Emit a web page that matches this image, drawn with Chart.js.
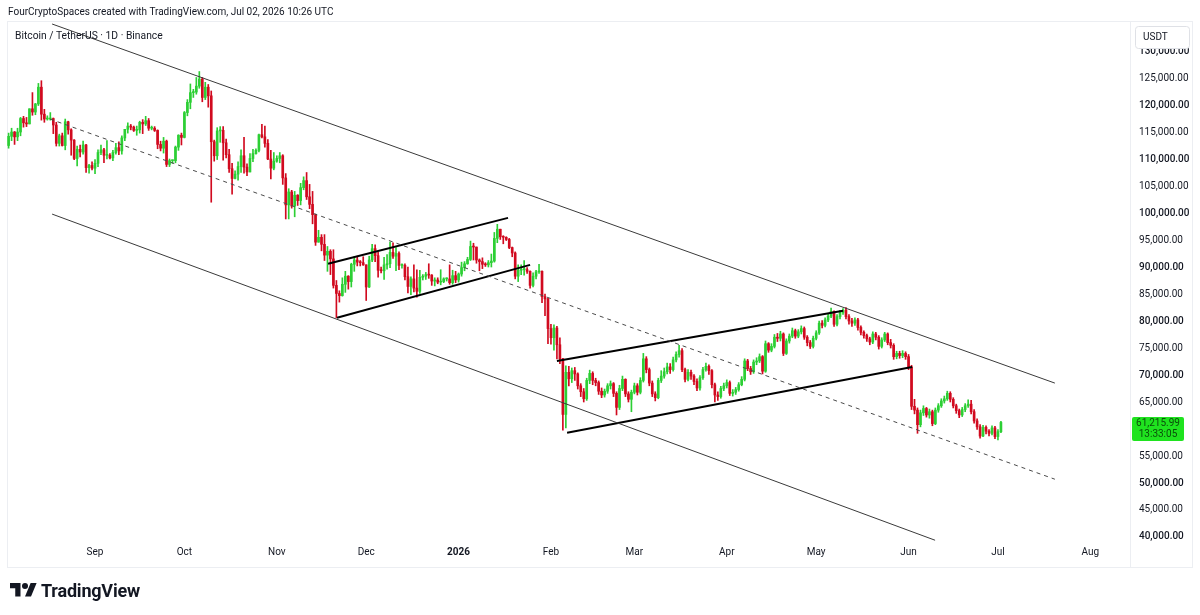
<!DOCTYPE html>
<html>
<head>
<meta charset="utf-8">
<title>Bitcoin / TetherUS · 1D · Binance</title>
<script src="https://cdn.jsdelivr.net/npm/chart.js@4.4.1/dist/chart.umd.min.js"></script>
<style>
    html, body { margin: 0; padding: 0; background: #fff; }
    body { width: 1200px; height: 615px; position: relative; overflow: hidden; font-family: Roboto, "Noto Sans", sans-serif; color: #131722; }
    #chart { position: absolute; left: 0; top: 0; }
    .header { position: absolute; left: 8px; top: 6px; font-size: 10px; white-space: nowrap; }
    .legend { position: absolute; left: 15px; top: 29px; font-size: 10.3px; white-space: nowrap; }
    .brand { position: absolute; left: 10px; top: 580px; display: flex; align-items: center; gap: 4px; font-weight: 700; font-size: 18px; letter-spacing: -0.2px; }
</style>
</head>
<body>
<canvas id="chart" width="1200" height="615"></canvas>
<div class="header">FourCryptoSpaces created with TradingView.com, Jul 02, 2026 10:26 UTC</div>
<div class="legend">Bitcoin / TetherUS · 1D · Binance</div>
<div class="brand">
    <svg width="27" height="21" viewBox="0 0 36 28"><path d="M14 22H7V11H0V4h14v18zM28 22h-8l7.5-18h8L28 22z" fill="#131722"/><circle cx="20" cy="8" r="4" fill="#131722"/></svg>
    <span>TradingView</span>
</div>
<script>
// daily candles, Aug 3 2025 .. Jul 2 2026, prices in thousands of USDT
// open of each day = previous close (24/7 market)
const firstOpen = 112.5;

const closes = [
    114.2, 115.0, 114.1, 115.0, 117.5, 116.7, 116.5, 119.3, 118.7, 120.2, 123.3, 118.3, 117.4, 117.4, 117.5, 116.3, 112.9, 114.3, 112.5, 116.9, 115.4, 113.5, 110.1, 111.8, 111.3, 112.6, 108.4, 108.8, 108.3,
    109.2, 111.2, 111.7, 110.7, 110.7, 110.2, 111.2, 112.1, 111.5, 113.9, 115.5, 116.1, 115.9, 115.3, 115.4, 116.8, 116.5, 117.1, 115.7, 115.7, 115.3, 112.7, 112.0, 113.3, 109.0, 109.7, 109.7, 112.2, 114.4, 114.0,
    118.6, 120.5, 122.3, 122.4, 123.5, 124.8, 121.4, 123.3, 121.7, 113.2, 110.6, 115.2, 115.3, 113.0, 110.8, 108.2, 106.4, 107.2, 108.6, 110.6, 108.5, 107.6, 110.1, 111.0, 111.6, 114.5, 114.1, 112.9, 110.0, 108.3, 109.6,
    110.1, 110.6, 106.5, 101.5, 103.9, 101.3, 103.3, 102.3, 104.7, 106.0, 103.0, 101.6, 99.7, 94.6, 95.5, 94.2, 92.2, 92.9, 91.5, 86.6, 85.1, 84.7, 86.8, 88.3, 87.3, 90.5, 91.3, 90.9, 90.8, 90.4,
    86.3, 91.3, 93.4, 92.1, 89.4, 89.3, 90.4, 90.6, 92.7, 92.0, 92.5, 90.3, 90.3, 88.2, 86.4, 87.8, 86.1, 85.5, 88.1, 88.3, 88.6, 88.5, 87.4, 87.6, 87.2, 87.3, 87.8, 87.8, 87.1, 88.4, 87.6,
    88.7, 89.9, 90.6, 91.4, 93.8, 93.7, 91.3, 91.0, 90.5, 90.4, 90.8, 91.1, 95.3, 97.0, 95.6, 95.5, 95.1, 93.6, 92.6, 88.3, 89.4, 89.5, 89.5, 89.2, 86.6, 88.3, 89.1, 89.2, 84.5, 84.1, 78.6,
    76.9, 78.7, 75.6, 73.0, 62.7, 70.5, 69.3, 70.8, 70.2, 68.0, 66.9, 65.6, 69.0, 70.3, 69.0, 68.6, 67.0, 66.3, 67.0, 68.0, 68.4, 66.6, 64.0, 67.5, 69.2, 66.5, 65.5, 66.8,
    68.0, 66.8, 69.0, 73.0, 71.0, 68.5, 66.5, 65.8, 69.0, 69.8, 70.6, 71.5, 71.0, 72.8, 73.8, 74.5, 71.0, 69.2, 70.5, 69.8, 68.8, 67.6, 69.5, 71.0, 71.6, 70.8, 68.2, 66.3, 66.0, 67.5, 68.0,
    68.6, 66.6, 66.8, 67.3, 68.2, 69.2, 72.6, 71.2, 70.6, 72.4, 72.6, 73.4, 70.7, 75.8, 74.6, 75.3, 77.0, 76.8, 77.6, 74.0, 76.3, 77.2, 78.2, 77.2, 78.0, 78.6, 77.0, 76.0, 75.3, 76.8,
    77.8, 79.6, 79.2, 80.2, 80.9, 81.8, 79.4, 80.8, 81.6, 82.0, 80.8, 80.0, 79.6, 80.2, 78.8, 77.9, 77.3, 76.7, 76.1, 77.6, 77.0, 75.3, 76.5, 77.6, 76.0, 75.5, 73.4, 74.0, 73.6, 74.0, 73.4,
    71.5, 64.2, 63.5, 60.8, 63.0, 63.8, 62.6, 63.2, 61.0, 63.5, 64.3, 65.2, 65.6, 66.6, 65.5, 64.3, 63.4, 62.6, 63.6, 64.3, 64.6, 63.2, 61.5, 60.4, 58.7, 60.3, 59.6, 59.2, 60.2, 58.6,
    59.5, 61.21599
];

const highs = [
    114.8, 115.7, 115.1, 115.7, 117.7, 117.9, 117.7, 119.3, 122.3, 120.3, 124.0, 124.5, 119.2, 118.0, 118.6, 117.6, 116.8, 114.6, 114.8, 117.4, 117.0, 115.6, 113.6, 112.4, 112.6, 113.3, 112.7, 109.0, 109.5,
    109.9, 111.7, 112.6, 112.0, 113.4, 111.0, 111.6, 112.9, 113.2, 114.3, 115.5, 116.7, 116.4, 116.1, 116.1, 117.0, 117.3, 117.9, 117.5, 116.1, 116.0, 115.4, 113.3, 114.0, 113.5, 110.0, 109.8, 112.4, 114.5, 114.8,
    118.8, 121.0, 123.9, 122.9, 125.1, 126.2, 125.1, 124.2, 123.8, 122.6, 113.5, 115.8, 116.0, 116.0, 113.7, 111.8, 109.2, 107.8, 109.5, 111.7, 114.0, 109.1, 111.0, 111.8, 111.9, 114.6, 116.4, 116.1, 113.6, 111.6, 111.2,
    110.6, 111.2, 110.8, 107.3, 104.5, 104.2, 104.0, 103.4, 105.5, 106.7, 107.5, 105.3, 104.0, 99.8, 96.8, 96.0, 96.0, 93.8, 93.2, 93.2, 87.5, 85.6, 88.0, 89.2, 88.4, 90.7, 91.9, 92.0, 91.2, 91.9,
    90.4, 92.0, 94.2, 94.1, 92.7, 90.0, 91.8, 92.3, 94.6, 94.5, 93.6, 92.8, 90.6, 90.6, 90.0, 88.2, 90.4, 89.5, 89.4, 88.6, 89.0, 90.6, 88.6, 88.0, 88.0, 89.5, 88.0, 88.0, 90.4, 89.4, 89.2,
    88.9, 90.9, 91.0, 91.8, 94.8, 94.4, 93.7, 91.5, 91.7, 90.8, 91.2, 92.4, 96.4, 97.9, 97.0, 95.8, 95.6, 95.3, 93.7, 92.8, 90.4, 90.4, 91.2, 89.9, 89.3, 88.9, 89.4, 90.5, 89.3, 85.0, 84.2,
    79.4, 79.3, 79.0, 76.9, 73.1, 71.7, 71.6, 71.3, 71.4, 70.4, 68.4, 67.5, 69.4, 70.9, 70.6, 69.4, 68.9, 67.6, 67.4, 68.4, 68.9, 68.6, 66.9, 68.1, 69.8, 69.3, 66.9, 67.2,
    68.5, 68.4, 69.5, 74.0, 73.4, 71.3, 68.9, 66.9, 69.4, 70.8, 71.3, 72.2, 72.1, 73.3, 74.3, 75.5, 74.9, 71.3, 71.0, 70.9, 70.1, 69.3, 69.9, 71.4, 72.2, 71.9, 71.0, 68.5, 66.9, 67.9, 68.5,
    69.1, 68.9, 67.3, 67.7, 68.6, 69.7, 73.0, 72.9, 71.6, 72.8, 73.2, 73.9, 73.6, 76.3, 76.0, 75.8, 77.5, 77.7, 78.1, 77.8, 76.7, 77.6, 78.7, 78.5, 78.4, 79.1, 78.9, 77.3, 76.4, 77.2,
    78.2, 80.0, 80.1, 80.6, 81.3, 82.4, 81.9, 81.2, 82.0, 82.3, 82.5, 81.2, 80.5, 80.6, 80.5, 79.1, 78.2, 77.6, 77.0, 78.0, 77.9, 77.3, 76.9, 77.9, 77.8, 76.6, 75.8, 74.4, 74.4, 74.5, 74.3,
    73.8, 71.8, 65.5, 63.9, 63.5, 64.3, 64.0, 63.7, 63.5, 63.9, 64.7, 65.6, 66.1, 67.0, 66.9, 65.8, 64.6, 63.7, 64.0, 64.7, 65.4, 65.3, 63.6, 61.9, 60.8, 60.7, 60.6, 59.9, 60.6, 60.5,
    59.9, 61.4
];

const lows = [
    112.0, 113.4, 112.7, 113.4, 114.3, 115.9, 116.0, 116.5, 118.1, 118.2, 119.9, 117.2, 116.8, 117.2, 117.2, 114.7, 112.4, 112.4, 112.4, 111.7, 114.6, 110.7, 109.9, 108.7, 110.4, 110.9, 107.5, 107.4, 108.0,
    107.3, 108.6, 110.8, 109.3, 110.0, 110.0, 109.7, 110.9, 110.8, 110.9, 113.4, 114.8, 115.4, 115.1, 114.4, 114.8, 114.7, 116.2, 115.3, 115.4, 115.1, 111.9, 111.5, 111.1, 108.6, 108.6, 109.2, 109.3, 111.6, 112.6,
    113.9, 118.0, 119.3, 121.4, 122.0, 123.1, 120.6, 121.0, 119.6, 102.0, 109.6, 109.9, 113.1, 109.8, 110.2, 107.5, 103.5, 106.3, 106.1, 107.5, 107.4, 106.9, 107.6, 109.5, 110.9, 111.3, 113.9, 112.2, 109.9, 106.3, 108.0,
    109.4, 109.3, 105.3, 98.9, 98.9, 100.9, 99.3, 101.4, 101.5, 104.3, 102.5, 100.8, 98.0, 94.0, 94.6, 93.0, 91.2, 89.2, 88.6, 86.1, 80.6, 83.5, 84.6, 85.3, 85.9, 86.3, 89.2, 90.2, 90.2, 90.3,
    83.8, 86.2, 91.0, 91.0, 88.1, 88.9, 87.7, 89.6, 89.9, 91.6, 89.3, 89.5, 89.8, 87.6, 85.2, 84.9, 85.4, 84.4, 85.1, 87.6, 87.7, 87.9, 86.6, 86.5, 86.9, 86.7, 87.1, 87.4, 86.8, 86.8, 87.1,
    87.2, 88.3, 89.3, 90.5, 91.2, 91.3, 90.7, 89.3, 89.7, 90.1, 90.0, 90.0, 90.9, 94.5, 95.1, 94.3, 94.9, 93.4, 91.9, 87.8, 87.3, 88.6, 88.5, 88.8, 86.1, 86.3, 87.8, 88.8, 83.4, 81.0, 75.8,
    75.7, 74.6, 73.0, 72.1, 59.8, 60.2, 68.0, 68.6, 69.0, 67.4, 66.0, 65.0, 65.3, 68.4, 68.2, 68.0, 66.4, 65.8, 65.9, 66.6, 67.4, 66.0, 62.6, 63.6, 67.1, 66.0, 65.0, 63.2,
    66.5, 66.3, 66.5, 68.7, 70.4, 68.0, 66.0, 65.2, 65.6, 68.6, 69.4, 70.2, 70.3, 70.7, 72.4, 73.3, 70.6, 68.7, 68.9, 69.2, 68.2, 67.1, 67.2, 69.2, 70.7, 70.1, 67.6, 65.0, 65.3, 65.7, 67.1,
    67.6, 66.2, 66.1, 66.4, 67.0, 68.0, 68.9, 70.8, 70.1, 70.3, 71.9, 72.3, 70.2, 70.5, 74.2, 74.3, 75.0, 76.2, 76.3, 73.6, 73.8, 75.9, 76.9, 76.8, 76.9, 77.6, 76.6, 75.4, 74.9, 75.0,
    76.5, 77.5, 78.7, 78.9, 79.9, 80.6, 79.0, 79.1, 80.4, 81.2, 80.4, 79.4, 79.0, 79.2, 78.3, 77.4, 76.8, 76.2, 75.6, 75.8, 76.5, 74.8, 75.0, 76.2, 75.6, 75.0, 72.9, 73.0, 73.1, 73.2, 72.9,
    71.0, 63.6, 62.8, 59.2, 60.4, 62.5, 62.2, 62.0, 60.6, 60.8, 63.1, 64.0, 64.8, 65.3, 65.0, 63.9, 62.9, 62.1, 62.3, 63.2, 64.0, 62.8, 61.1, 59.9, 58.3, 58.6, 59.1, 58.7, 58.9, 58.2,
    58.0, 59.3
];

// x axis: day index 0 = Aug 3 2025
const monthTicks = [29, 59, 90, 120, 151, 182, 210, 241, 271, 302, 332, 363];
const monthLabels = ['Sep', 'Oct', 'Nov', 'Dec', '2026', 'Feb', 'Mar', 'Apr', 'May', 'Jun', 'Jul', 'Aug'];
const priceTicks = [40000, 45000, 50000, 55000, 60000, 65000, 70000, 75000, 80000, 85000, 90000, 95000,
    100000, 105000, 110000, 115000, 120000, 125000, 130000];

// drawn trend lines as [day, price]
const upperChannel = [[14.6, 135000], [351.1, 68500]];
const midLine = [[13.9, 117400], [351.1, 50700]];
const lowerChannel = [[14.6, 99800], [310.9, 39400]];
const decFlagTop = [[107.2, 90600], [167.6, 99100]];
const decFlagBottom = [[110.2, 80600], [175.0, 90400]];
const springTop = [[184.0, 72600], [280.0, 81900]];
const springBottom = [[187.4, 59300], [303.2, 71500]];

const UP = '#2ccf34';
const DOWN = '#d10a1f';
const TEXT = '#131722';
const FONT = 'Roboto, "Noto Sans", sans-serif';

const K = 1000;
const opens = closes.map((c, i) => i === 0 ? firstOpen : closes[i - 1]);
const candleColors = closes.map((c, i) => c >= opens[i] ? UP : DOWN);

const wickData = closes.map((c, i) => ({
    x: i,
    y: [Math.min(lows[i], c, opens[i]) * K, Math.max(highs[i], c, opens[i]) * K]
}));
const bodyData = closes.map((c, i) => ({ x: i, y: [opens[i] * K, c * K] }));

const toPoints = line => line.map(p => ({ x: p[0], y: p[1] }));
const lineSet = (line, width, color, dash) => ({
    type: 'line',
    data: toPoints(line),
    borderColor: color,
    borderWidth: width,
    borderDash: dash || [],
    pointRadius: 0,
    tension: 0,
    order: 0
});

const lastClose = closes[closes.length - 1] * K;

const overlayPlugin = {
    id: 'overlay',
    beforeDraw(chart) {
        const { ctx, chartArea } = chart;
        ctx.save();
        ctx.strokeStyle = '#eceef2';
        ctx.lineWidth = 1;
        ctx.strokeRect(7.5, 21.5, 1185, 546);
        ctx.beginPath();
        ctx.moveTo(chartArea.right + 0.5, 21.5);
        ctx.lineTo(chartArea.right + 0.5, 567.5);
        ctx.stroke();
        ctx.restore();
    },
    afterDraw(chart) {
        const { ctx, scales } = chart;
        ctx.save();

        // currency box at the top of the price axis
        ctx.fillStyle = '#fff';
        ctx.strokeStyle = '#dfe1e6';
        ctx.beginPath();
        ctx.roundRect(1135.5, 26.5, 54, 22, 3);
        ctx.fill();
        ctx.stroke();
        ctx.fillStyle = TEXT;
        ctx.font = '10px ' + FONT;
        ctx.textBaseline = 'middle';
        ctx.textAlign = 'left';
        ctx.fillText('USDT', 1143, 37);

        // last price label
        const y = scales.y.getPixelForValue(lastClose);
        ctx.fillStyle = '#1fe31f';
        ctx.beginPath();
        ctx.roundRect(1132, y - 5.5, 52, 24, 2);
        ctx.fill();
        ctx.fillStyle = '#0b4d0b';
        ctx.textAlign = 'center';
        ctx.font = '10px ' + FONT;
        ctx.fillText('61,215.99', 1158, y + 1);
        ctx.fillText('13:33:05', 1158, y + 12);

        ctx.restore();
    }
};

new Chart(document.getElementById('chart'), {
    type: 'bar',
    data: {
        datasets: [
            lineSet(upperChannel, 1, '#3a3a3a'),
            lineSet(midLine, 1, '#4a4a4a', [4, 4]),
            lineSet(lowerChannel, 1, '#3a3a3a'),
            lineSet(decFlagTop, 2, '#000'),
            lineSet(decFlagBottom, 2, '#000'),
            lineSet(springTop, 2, '#000'),
            lineSet(springBottom, 2, '#000'),
            {
                data: bodyData,
                backgroundColor: candleColors,
                barThickness: 2,
                minBarLength: 1,
                grouped: false,
                order: 1
            },
            {
                data: wickData,
                backgroundColor: candleColors,
                barThickness: 1,
                grouped: false,
                order: 2
            }
        ]
    },
    options: {
        responsive: false,
        animation: false,
        events: [],
        layout: { padding: { top: 22, bottom: 52, left: 0, right: 0 } },
        plugins: {
            legend: { display: false },
            tooltip: { enabled: false }
        },
        scales: {
            x: {
                type: 'linear',
                min: -2.886,
                max: 376.31,
                offset: false,
                grid: { display: false, drawTicks: false },
                border: { display: false },
                afterBuildTicks: s => { s.ticks = monthTicks.map(v => ({ value: v })); },
                afterFit: s => { s.height = 22; },
                ticks: {
                    autoSkip: false,
                    maxRotation: 0,
                    padding: 5,
                    color: TEXT,
                    font: ctx => ({ family: FONT, size: 10, weight: ctx.index === 4 ? '700' : '400' }),
                    callback: (value, index) => monthLabels[index]
                }
            },
            y: {
                type: 'linear',
                position: 'right',
                min: 39259,
                max: 135373,
                grid: { display: false, drawTicks: false },
                border: { display: false },
                afterBuildTicks: s => { s.ticks = priceTicks.map(v => ({ value: v })); },
                afterFit: s => { s.width = 70; },
                ticks: {
                    padding: 9,
                    color: TEXT,
                    font: ctx => ({ family: FONT, size: 10, weight: ctx.tick && ctx.tick.value % 10000 === 0 ? '500' : '400' }),
                    callback: v => v.toLocaleString('en-US', { minimumFractionDigits: 2, maximumFractionDigits: 2 })
                }
            }
        }
    },
    plugins: [overlayPlugin]
});
</script>
</body>
</html>
